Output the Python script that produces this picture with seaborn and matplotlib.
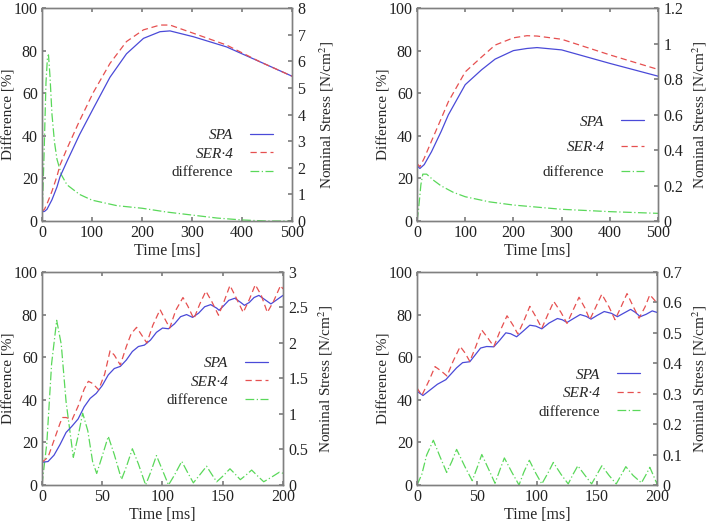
import matplotlib
matplotlib.use("Agg")
import matplotlib.pyplot as plt
import seaborn as sns
from matplotlib.ticker import FuncFormatter

# ---- panel 1 (0-500 ms) ----
t1 = [0, 5, 10, 20, 30, 36, 50, 75, 103, 136, 169, 203, 236, 256, 303, 369, 436, 500]
spa1 = [0.35, 0.36, 0.44, 0.80, 1.28, 1.66, 2.24, 3.24, 4.24, 5.40, 6.28, 6.86, 7.11, 7.14,
        6.92, 6.54, 5.98, 5.44]
ser1 = [0.36, 0.44, 0.64, 1.12, 1.68, 2.10, 2.72, 3.76, 4.84, 5.92, 6.74, 7.18, 7.36, 7.36,
        7.05, 6.61, 5.98, 5.44]
td1 = [0, 4, 8, 11, 13, 16, 20, 25, 30, 39, 50, 75, 100, 150, 200, 250, 300, 350, 400, 450, 500]
diff1 = [0, 30, 65, 77, 78, 68, 50, 37, 29, 21.6, 17, 12.5, 9.8, 7.2, 6, 4.2, 2.8, 1.4, 0.5, 0, 0]

# ---- panel 2 (0-500 ms) ----
t2 = [0, 6, 15, 30, 50, 65, 100, 134, 162, 200, 228, 249, 300, 400, 500]
spa2 = [0.312, 0.296, 0.318, 0.39, 0.504, 0.598, 0.768, 0.852, 0.912, 0.96, 0.972, 0.977,
        0.964, 0.888, 0.816]
ser2 = [0.324, 0.306, 0.354, 0.45, 0.576, 0.672, 0.84, 0.924, 0.991, 1.032, 1.044, 1.042,
        1.024, 0.936, 0.854]
td2 = [0, 3, 8, 12, 20, 25, 35, 50, 75, 100, 150, 200, 250, 300, 400, 500]
diff2 = [0, 5, 17, 22, 22, 21, 19, 16.5, 13.5, 11.4, 9, 7.5, 6.5, 5.5, 4.4, 3.6]

# ---- panel 3 (0-200 ms) ----
t3 = [0, 5, 10, 15, 20, 25, 30, 35, 40, 45, 50, 55, 60, 65, 70, 75, 80, 85, 90, 95, 100,
      105, 110, 115, 120, 125, 130, 135, 140, 145, 147, 150, 155, 160, 165, 168, 172, 176,
      180, 185, 190, 195, 200]
spa3 = [0.32, 0.33, 0.42, 0.57, 0.74, 0.83, 0.93, 1.10, 1.22, 1.29, 1.40, 1.55, 1.64, 1.67,
        1.76, 1.88, 1.95, 1.97, 2.04, 2.15, 2.21, 2.20, 2.27, 2.37, 2.40, 2.36, 2.42, 2.51,
        2.54, 2.49, 2.46, 2.51, 2.60, 2.63, 2.57, 2.53, 2.57, 2.64, 2.67, 2.61, 2.55, 2.61, 2.67]
ts3 = [0, 5, 10, 15, 17, 20, 25, 30, 35, 38.5, 42, 47, 52, 56.5, 60, 65, 70, 74, 78.5, 82,
       87, 92, 98, 101, 106, 111, 117, 121, 126, 131, 136, 141, 146.5, 151, 156, 161, 167,
       172, 177, 182, 187, 192, 198, 200]
ser3 = [0.32, 0.39, 0.63, 0.87, 0.95, 0.95, 0.92, 1.11, 1.35, 1.46, 1.43, 1.34, 1.56, 1.89,
        1.83, 1.69, 1.95, 2.13, 2.22, 2.13, 2.00, 2.25, 2.47, 2.37, 2.21, 2.46, 2.64, 2.52,
        2.34, 2.55, 2.73, 2.58, 2.39, 2.58, 2.81, 2.64, 2.43, 2.61, 2.82, 2.67, 2.43, 2.58,
        2.81, 2.76]
td3 = [0, 4, 8, 12.2, 16, 20, 26, 30, 33.8, 38, 42, 45.4, 50, 55, 60, 66, 70, 75, 80, 86,
       90, 95, 100, 105, 110, 116, 121, 125.6, 131, 136.6, 141, 145, 150, 156, 160, 164.6,
       169, 174, 179, 184, 190, 197, 200]
diff3 = [0, 19.5, 57, 77.3, 66, 39, 13, 23, 33.7, 25.5, 11, 5.4, 13.6, 22.8, 14.3, 2.6, 8.5,
         17, 9.9, 0, 5.7, 13.8, 6.9, 0, 4.7, 11.1, 5.7, 1, 4.8, 8.8, 4.9, 1.5, 4.1, 7.6, 5.3,
         2.5, 4.5, 7, 4.2, 1.5, 3.5, 6, 5.5]

# ---- panel 4 (0-200 ms) ----
t4 = [0, 5, 17, 24, 33, 38, 44, 53, 58, 64, 69, 74, 78, 83, 88, 94, 99, 104, 110, 117, 121,
      125, 130, 136, 141, 145, 150, 156, 162, 167, 172, 178, 182, 186, 191, 196, 200]
spa4 = [0.308, 0.294, 0.331, 0.346, 0.385, 0.402, 0.405, 0.45, 0.455, 0.454, 0.476, 0.5,
        0.497, 0.487, 0.504, 0.525, 0.522, 0.513, 0.532, 0.547, 0.543, 0.534, 0.546, 0.56,
        0.554, 0.545, 0.557, 0.57, 0.564, 0.553, 0.564, 0.577, 0.567, 0.553, 0.561, 0.572, 0.567]
ts4 = [0, 4, 10, 15, 20, 25, 30, 36, 40, 44, 49, 54, 59, 64, 69, 75, 80, 84, 89, 94, 99, 104,
       109, 114, 120, 125, 130, 135, 140, 144, 149, 154, 160, 165, 170, 175, 180, 185, 190,
       194, 200]
ser4 = [0.319, 0.294, 0.343, 0.389, 0.375, 0.358, 0.406, 0.455, 0.434, 0.406, 0.455, 0.509,
        0.483, 0.455, 0.504, 0.556, 0.525, 0.496, 0.539, 0.587, 0.553, 0.515, 0.56, 0.603,
        0.567, 0.531, 0.574, 0.617, 0.581, 0.543, 0.585, 0.627, 0.585, 0.543, 0.585, 0.629,
        0.588, 0.548, 0.585, 0.625, 0.598]
td4 = [0, 4, 8, 13.6, 19, 24.7, 29, 33, 40, 46, 50, 54, 60, 65, 69, 72.8, 79, 85, 89, 93.6,
       99, 104, 109, 113.6, 120, 126, 130, 134, 140, 145.5, 150, 154, 160, 166, 170, 174, 180,
       187, 191, 194, 200]
diff4 = [0, 5, 14, 21, 13.5, 5.9, 11, 16.7, 8.5, 2, 8, 14.3, 7, 0.8, 7, 12.7, 6, 0, 6, 11.6,
         5.5, 0.5, 5.5, 10.6, 5, 0.5, 5, 9, 4.5, 0.5, 5, 9, 4.5, 0.5, 4.5, 8.6, 4.5, 1, 5, 8.3, 0.5]

labels = ["SPA", "SER\u00b74", "difference"]
c_spa, c_ser, c_diff = "#4a4ad8", "#e65050", "#5ad85a"
frame = "#808080"

sns.set_theme(style="ticks")
plt.rcParams["font.family"] = ["Liberation Serif", "DejaVu Serif"]
plt.rcParams["mathtext.fontset"] = "stix"

fig = plt.figure(figsize=(7.08, 5.23), dpi=100)

panels = [
    # rect, t_stress, spa, t_ser, ser, t_diff, diff, xmax, xstep, smax, sstep,
    # legend anchor, legend spacing, left label x, right label x
    ([0.0593, 0.5774, 0.3531, 0.4073], t1, spa1, t1, ser1, td1, diff1, 500, 100, 8, 1,
     (0.924, 0.315), 0.32, -0.104, 1.10),
    ([0.5890, 0.5774, 0.3404, 0.4073], t2, spa2, t2, ser2, td2, diff2, 500, 100, 1.2, 0.2,
     (0.942, 0.347), 0.75, -0.112, 1.133),
    ([0.0593, 0.0727, 0.3404, 0.4073], t3, spa3, ts3, ser3, td3, diff3, 200, 50, 3, 0.5,
     (0.938, 0.484), 0.3, -0.108, 1.137),
    ([0.5890, 0.0727, 0.3390, 0.4073], t4, spa4, ts4, ser4, td4, diff4, 200, 50, 0.7, 0.1,
     (0.929, 0.43), 0.32, -0.1125, 1.1375),
]

fmt = FuncFormatter(lambda v, p: f"{v:g}")

for (rect, ta, spa, tb, ser, td, diff, xmax, xstep, smax, sstep,
     anchor, lsp, lx, rx) in panels:
    ax = fig.add_axes(rect)
    ax2 = ax.twinx()

    sns.lineplot(x=td, y=diff, ax=ax, color=c_diff, lw=0.9, legend=False, estimator=None)
    ax.lines[-1].set_dashes([7, 2, 1, 2])
    sns.lineplot(x=ta, y=spa, ax=ax2, color=c_spa, lw=0.9, legend=False, estimator=None)
    sns.lineplot(x=tb, y=ser, ax=ax2, color=c_ser, lw=0.9, legend=False, estimator=None)
    ax2.lines[-1].set_dashes([5, 3])

    ax.set_xlim(0, xmax)
    ax.set_ylim(0, 100)
    ax2.set_ylim(0, smax)
    ax.set_xticks(range(0, xmax + 1, xstep))
    ax.set_yticks(range(0, 101, 20))
    n = int(round(smax / sstep))
    ax2.set_yticks([round(i * sstep, 3) for i in range(n + 1)])
    ax2.yaxis.set_major_formatter(fmt)

    ax.set_xlabel("Time [ms]", fontsize=11.5, labelpad=1)
    ax.set_ylabel("Difference [%]", fontsize=11)
    ax.yaxis.set_label_coords(lx, 0.5)
    ax2.set_ylabel("Nominal Stress [N/cm$^2$]", fontsize=11)
    ax2.yaxis.set_label_coords(rx, 0.5)

    for a in (ax, ax2):
        for s in a.spines.values():
            s.set_color(frame)
            s.set_linewidth(1.0)
    ax.tick_params(axis="x", direction="in", length=3, color=frame, labelsize=11.5,
                   pad=3, top=True, labelcolor="#222222")
    ax.tick_params(axis="y", direction="in", length=3, color=frame, labelsize=11.5,
                   pad=3, right=False, labelcolor="#222222")
    ax2.tick_params(axis="y", direction="in", length=3, color=frame, labelsize=11.5,
                    pad=4, labelcolor="#222222")

    handles = [ax2.lines[0], ax2.lines[1], ax.lines[0]]
    leg = ax2.legend(handles, labels, loc="center right", bbox_to_anchor=anchor,
                     frameon=False, markerfirst=False, fontsize=11, handlelength=1.5,
                     handletextpad=1.1, labelspacing=lsp, borderpad=0, borderaxespad=0)
    for txt in leg.get_texts()[:2]:
        txt.set_fontstyle("italic")

fig.savefig("out.png", dpi=100)
